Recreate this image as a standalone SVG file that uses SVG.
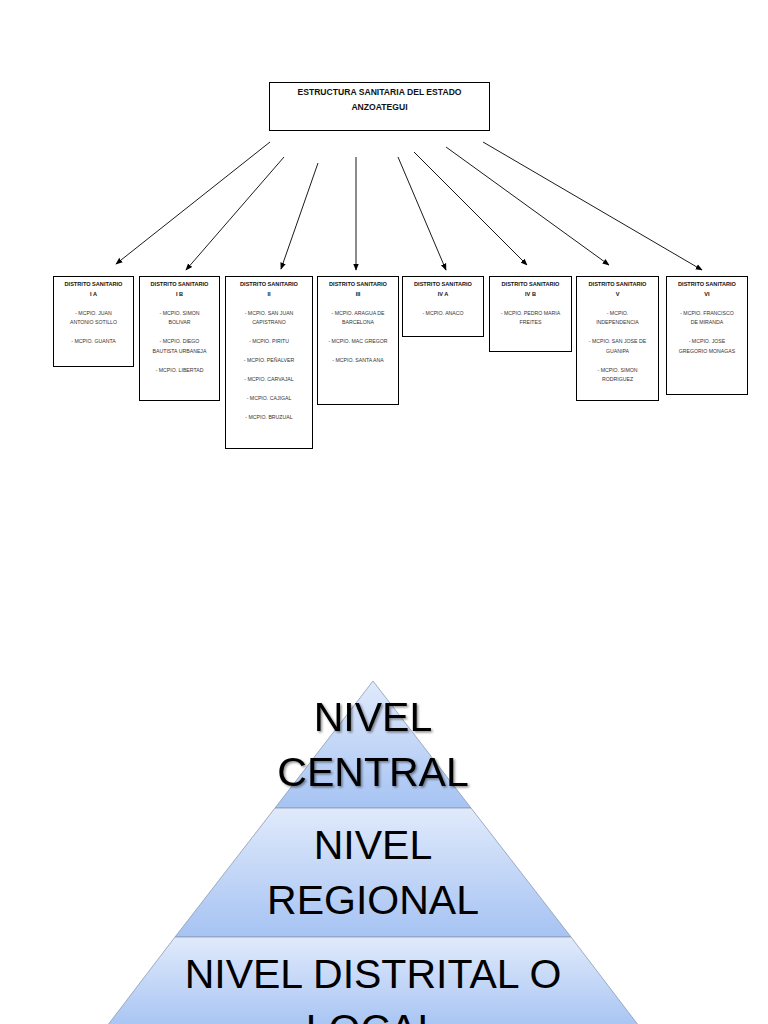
<svg xmlns="http://www.w3.org/2000/svg" width="768" height="1024" viewBox="0 0 768 1024">
<style>
.box{fill:#fff;stroke:#000;stroke-width:1}
.t{font-family:"Liberation Sans",Arial,sans-serif;font-size:5.6px;font-weight:bold;fill:#111;text-anchor:middle}
.i{font-family:"Liberation Sans",Arial,sans-serif;font-size:5.2px;fill:#333;text-anchor:middle}
.h{font-family:"Liberation Sans",Arial,sans-serif;font-size:8.6px;font-weight:bold;fill:#111;text-anchor:middle}
.c{stroke:#000;stroke-width:0.9;fill:none;marker-end:url(#ah)}
.band{stroke:#8c9ab2;stroke-width:0.8}
.big{font-family:"Liberation Sans",Arial,sans-serif;font-size:41px;fill:#000;text-anchor:middle}
</style>
<defs>
<marker id="ah" viewBox="0 0 10 10" refX="9" refY="5" markerWidth="7" markerHeight="7" orient="auto" markerUnits="userSpaceOnUse">
<path d="M0,1 L10,5 L0,9 z" fill="#000"/>
</marker>
<linearGradient id="g" x1="0" y1="0" x2="0" y2="1">
<stop offset="0" stop-color="#e0eafb"/>
<stop offset="1" stop-color="#a6c3f3"/>
</linearGradient>
<filter id="sh" x="-20%" y="-20%" width="140%" height="140%">
<feDropShadow dx="1.5" dy="1.5" stdDeviation="1.2" flood-color="#000" flood-opacity="0.45"/>
</filter>
</defs>
<rect width="768" height="1024" fill="#fff"/>

<g id="root">
<rect class="box" x="269.5" y="82.5" width="220" height="48"/>
<text class="h" x="379.5" y="95">ESTRUCTURA SANITARIA DEL ESTADO</text>
<text class="h" x="379.5" y="110">ANZOATEGUI</text>
</g>

<g id="connectors">
<line class="c" x1="270" y1="142" x2="116" y2="264"/>
<line class="c" x1="284" y1="157" x2="186" y2="270"/>
<line class="c" x1="318" y1="163" x2="281" y2="269"/>
<line class="c" x1="356" y1="157" x2="356" y2="270"/>
<line class="c" x1="398" y1="157" x2="446" y2="270"/>
<line class="c" x1="414" y1="152" x2="527" y2="265"/>
<line class="c" x1="446" y1="147" x2="609" y2="265"/>
<line class="c" x1="483" y1="142" x2="702" y2="270"/>
</g>

<g id="d1">
<rect class="box" x="53.5" y="276.5" width="80" height="90"/>
<text class="t" x="93.5" y="286">DISTRITO SANITARIO</text>
<text class="t" x="93.5" y="295.5">I A</text>
<text class="i" x="93.5" y="314.5">- MCPIO. JUAN</text>
<text class="i" x="93.5" y="324">ANTONIO SOTILLO</text>
<text class="i" x="93.5" y="343">- MCPIO. GUANTA</text>
</g>

<g id="d2">
<rect class="box" x="139.5" y="276.5" width="80" height="124"/>
<text class="t" x="179.5" y="286">DISTRITO SANITARIO</text>
<text class="t" x="179.5" y="295.5">I B</text>
<text class="i" x="179.5" y="314.5">- MCPIO. SIMON</text>
<text class="i" x="179.5" y="324">BOLIVAR</text>
<text class="i" x="179.5" y="343">- MCPIO. DIEGO</text>
<text class="i" x="179.5" y="352.5">BAUTISTA URBANEJA</text>
<text class="i" x="179.5" y="371.5">- MCPIO. LIBERTAD</text>
</g>

<g id="d3">
<rect class="box" x="225.5" y="276.5" width="87" height="172"/>
<text class="t" x="269" y="286">DISTRITO SANITARIO</text>
<text class="t" x="269" y="295.5">II</text>
<text class="i" x="269" y="314.5">- MCPIO. SAN JUAN</text>
<text class="i" x="269" y="324">CAPISTRANO</text>
<text class="i" x="269" y="343">- MCPIO. PIRITU</text>
<text class="i" x="269" y="362">- MCPIO. PEÑALVER</text>
<text class="i" x="269" y="381">- MCPIO. CARVAJAL</text>
<text class="i" x="269" y="400">- MCPIO. CAJIGAL</text>
<text class="i" x="269" y="419">- MCPIO. BRUZUAL</text>
</g>

<g id="d4">
<rect class="box" x="317.5" y="276.5" width="81" height="128"/>
<text class="t" x="358" y="286">DISTRITO SANITARIO</text>
<text class="t" x="358" y="295.5">III</text>
<text class="i" x="358" y="314.5">- MCPIO. ARAGUA DE</text>
<text class="i" x="358" y="324">BARCELONA</text>
<text class="i" x="358" y="343">- MCPIO. MAC GREGOR</text>
<text class="i" x="358" y="362">- MCPIO. SANTA ANA</text>
</g>

<g id="d5">
<rect class="box" x="402.5" y="276.5" width="81" height="60"/>
<text class="t" x="443" y="286">DISTRITO SANITARIO</text>
<text class="t" x="443" y="295.5">IV A</text>
<text class="i" x="443" y="314.5">- MCPIO. ANACO</text>
</g>

<g id="d6">
<rect class="box" x="489.5" y="276.5" width="82" height="75"/>
<text class="t" x="530.5" y="286">DISTRITO SANITARIO</text>
<text class="t" x="530.5" y="295.5">IV B</text>
<text class="i" x="530.5" y="314.5">- MCPIO. PEDRO MARIA</text>
<text class="i" x="530.5" y="324">FREITES</text>
</g>

<g id="d7">
<rect class="box" x="576.5" y="276.5" width="82" height="124"/>
<text class="t" x="617.5" y="286">DISTRITO SANITARIO</text>
<text class="t" x="617.5" y="295.5">V</text>
<text class="i" x="617.5" y="314.5">- MCPIO.</text>
<text class="i" x="617.5" y="324">INDEPENDENCIA</text>
<text class="i" x="617.5" y="343">- MCPIO. SAN JOSE DE</text>
<text class="i" x="617.5" y="352.5">GUANIPA</text>
<text class="i" x="617.5" y="371.5">- MCPIO. SIMON</text>
<text class="i" x="617.5" y="381">RODRIGUEZ</text>
</g>

<g id="d8">
<rect class="box" x="666.5" y="276.5" width="81" height="118"/>
<text class="t" x="707" y="286">DISTRITO SANITARIO</text>
<text class="t" x="707" y="295.5">VI</text>
<text class="i" x="707" y="314.5">- MCPIO. FRANCISCO</text>
<text class="i" x="707" y="324">DE MIRANDA</text>
<text class="i" x="707" y="343">- MCPIO. JOSE</text>
<text class="i" x="707" y="352.5">GREGORIO MONAGAS</text>
</g>

<g id="pyramid-central">
<polygon class="band" fill="url(#g)" points="373,681 471,808 275,808"/>
<g filter="url(#sh)">
<text class="big" x="373" y="731">NIVEL</text>
<text class="big" x="373" y="786">CENTRAL</text>
</g>
</g>

<g id="pyramid-regional">
<polygon class="band" fill="url(#g)" points="275,808 471,808 571,937 175,937"/>
<text class="big" x="373" y="859">NIVEL</text>
<text class="big" x="373" y="914">REGIONAL</text>
</g>

<g id="pyramid-local">
<polygon class="band" fill="url(#g)" points="175,937 571,937 642,1030 104,1030"/>
<text class="big" x="373" y="988">NIVEL DISTRITAL O</text>
<text class="big" x="373" y="1043">LOCAL</text>
</g>
</svg>
